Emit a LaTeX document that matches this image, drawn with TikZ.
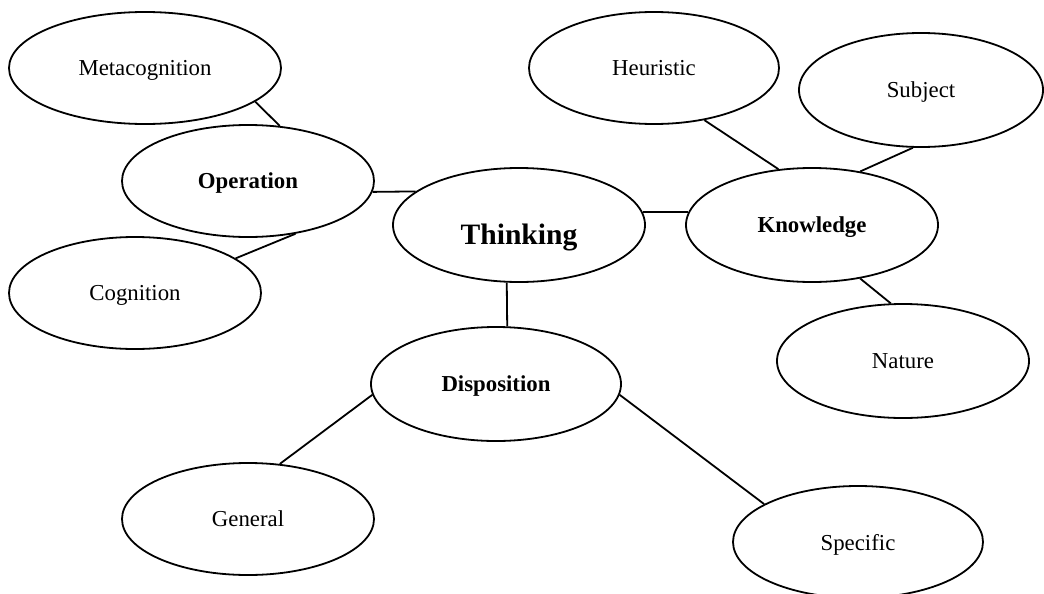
\documentclass[tikz,border=0pt]{standalone}
\usepackage{fontspec}
\setmainfont{Liberation Serif}
\usetikzlibrary{shapes.geometric}

\begin{document}
\begin{tikzpicture}
        [x=0.5pt,y=-0.5pt,every node/.style={draw,shape=ellipse,inner sep=0,minimum width=126pt,minimum height=57pt,text depth=0pt,font=\fontsize{11.4}{13}\selectfont}, every path/.style={line width=0.9pt},
        main/.style={font=\fontsize{11.4}{13}\selectfont\bfseries}]

        \useasboundingbox (0,0) rectangle (1044,594);

        \node[minimum width=136pt,minimum height=56pt] (meta) at (145,68) {Metacognition};
        \node[main,minimum height=56pt] (oper) at (248,181) {Operation};
        \node[minimum height=56pt] (cog) at (135,293) {Cognition};
        \node[main,font=\fontsize{14.8}{17}\selectfont\bfseries] (think) at (519,225) {\raisebox{-4.5pt}[\height][0pt]{Thinking}};
        \node[minimum width=125pt,minimum height=56pt] (heur) at (654,68) {Heuristic};
        \node[minimum width=122pt] (subj) at (921,90) {Subject};
        \node[main] (know) at (812,225) {Knowledge};
        \node (nat) at (903,361) {Nature};
        \node[main,minimum width=125pt] (disp) at (496,384) {Disposition};
        \node[minimum height=56pt] (gen) at (248,519) {General};
        \node[minimum width=125pt,minimum height=56pt] (spec) at (858,542) {Specific};

        \draw (meta.-17) -- (oper.60);
        \draw (oper.-5) -- (think.162);
        \draw (cog.19) -- (oper.-48);
        \draw (think.6) -- (know.174);
        \draw (heur.-46) -- (know.121);
        \draw (subj.-98) -- (know.48);
        \draw (know.-48) -- (nat.102);
        \draw (think.-102) -- (disp.79);
        \draw (disp.185) -- (gen.60);
        \draw (disp.-5) -- (spec.158);

      \end{tikzpicture}
\end{document}
